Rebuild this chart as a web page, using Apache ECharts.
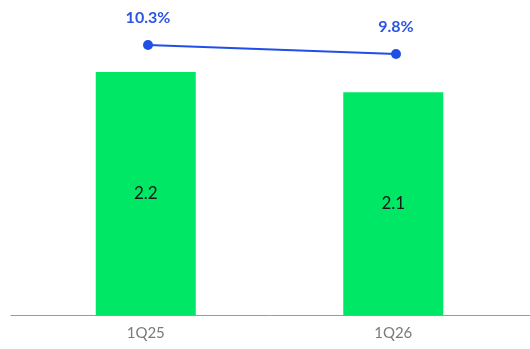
<!DOCTYPE html>
<html>
<head>
<meta charset="utf-8">
<script src="https://cdn.jsdelivr.net/npm/echarts@6/dist/echarts.min.js"></script>
<style>
  html, body { margin: 0; padding: 0; background: #fff; }
  #chart { width: 530px; height: 349px; }
</style>
</head>
<body>
<div id="chart"></div>
<script>
// Quarterly values (bars) and margin (line)
const quarters = ['1Q25', '1Q26'];
const barValues = [2.2, 2.1];
const marginPct = [10.3, 9.8];

const chart = echarts.init(document.getElementById('chart'));
const font = 'Lato, "Noto Sans", sans-serif';

chart.setOption({
  animation: false,
  backgroundColor: '#ffffff',
  grid: [
    { left: 22, right: 13, top: 11.25, bottom: 34, containLabel: false },
    { left: 11, right: 0, top: 11.25, bottom: 34, containLabel: false },
    { left: 24, right: 10, top: 11.25, bottom: 34, containLabel: false }
  ],
  xAxis: [
    {
      type: 'category', gridIndex: 0, data: quarters,
      axisLine: { show: false },
      axisTick: { show: false },
      axisLabel: { color: '#7a7a7a', fontSize: 15, fontFamily: font, margin: 11 }
    },
    {
      type: 'category', gridIndex: 1, data: quarters,
      axisLine: { show: true, lineStyle: { color: '#9a9a9a', width: 1 } },
      axisTick: { show: false },
      axisLabel: { show: false }
    },
    {
      type: 'category', gridIndex: 2, data: quarters,
      axisLine: { show: false }, axisTick: { show: false }, axisLabel: { show: false }
    }
  ],
  yAxis: [
    { type: 'value', gridIndex: 0, min: 1, max: 2.5, show: false },
    { type: 'value', gridIndex: 2, min: -4.7, max: 12.175, show: false },
    { type: 'value', gridIndex: 1, min: 0, max: 1, show: false }
  ],
  series: [
    {
      type: 'bar', xAxisIndex: 0, yAxisIndex: 0,
      data: barValues, barWidth: 100,
      itemStyle: { color: '#00e765' },
      label: {
        show: true, position: 'inside', color: '#1a1a1a',
        fontSize: 17, fontFamily: font,
        formatter: p => p.value.toFixed(1)
      }
    },
    {
      type: 'line', xAxisIndex: 2, yAxisIndex: 1,
      data: marginPct,
      symbol: 'circle', symbolSize: 10,
      lineStyle: { color: '#1f4fe6', width: 2 },
      itemStyle: { color: '#1f4fe6' },
      label: {
        show: true, position: 'top', distance: 14,
        color: '#2a55e4', fontSize: 16, fontWeight: 'bold', fontFamily: font,
        formatter: p => p.value.toFixed(1) + '%'
      }
    }
  ]
});
</script>
</body>
</html>
